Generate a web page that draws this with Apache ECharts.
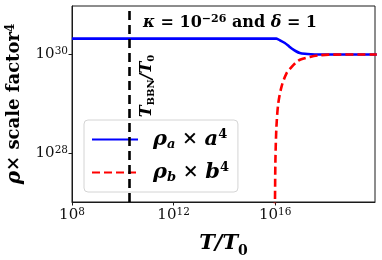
<!DOCTYPE html>
<html>
<head>
<meta charset="utf-8">
<script src="https://cdn.jsdelivr.net/npm/echarts@6/dist/echarts.min.js"></script>
<style>html,body{margin:0;padding:0;background:#fff}#c{width:382px;height:260px}</style>
</head>
<body>
<div id="c"></div>
<script>
// ---- data ----
var blueT   = [1e8, 1.12e16, 1.58e16, 2.4e16, 3.55e16, 4.47e16, 6.6e16, 9.3e16, 1.48e17, 2.5e17, 5e17, 1e20];
var blueRho = [2.09e30, 2.09e30, 1.91e30, 1.7e30, 1.45e30, 1.32e30, 1.16e30, 1.07e30, 1.03e30, 1.01e30, 1.0e30, 1.0e30];
var redT    = [9.55e15, 9.8e15, 1.02e16, 1.12e16, 1.32e16, 1.78e16, 2.82e16, 4.47e16, 7.1e16, 1e17, 2.34e17, 5e17, 1.26e18, 1e20];
var redRho  = [4e26, 1.05e27, 7.2e27, 3.5e28, 1.02e29, 2.24e29, 4.2e29, 5.6e29, 7.1e29, 7.9e29, 8.9e29, 9.55e29, 9.9e29, 1.0e30];
var bbnT = 1.78e10;
var xTicks = [1e8, 1e12, 1e16];
var yTicks = [1e28, 1e30];
var xMin = 1e8, xMax = 8.5e19, yMin = 1.05e27, yMax = 9.5e30;
var seriesNames = ['rho_a', 'rho_b'];

var SERIF = '"DejaVu Serif", "Liberation Serif", serif';
function pack(xs, ys) { return xs.map(function (x, i) { return [x, ys[i]]; }); }
function tickFmt(v) {
  var l = Math.log10(v), e = Math.round(l);
  if (Math.abs(l - e) > 1e-6) return '';
  return '{b|10}{s|' + e + '}';
}
var tickRich = {
  b: {fontFamily: SERIF, fontSize: 15, lineHeight: 17, color: '#111'},
  s: {fontFamily: SERIF, fontSize: 10.5, lineHeight: 11, verticalAlign: 'top', color: '#111'}
};

var chart = echarts.init(document.getElementById('c'), null, {renderer: 'canvas'});
chart.setOption({
  animation: false,
  grid: {left: 72, top: 6, right: 7, bottom: 58, show: true, borderColor: '#1a1a1a', borderWidth: 1,
         backgroundColor: 'transparent', containLabel: false, outerBoundsMode: 'none'},
  xAxis: {
    type: 'log', min: xMin, max: xMax, interval: 4,
    axisLine: {show: true, lineStyle: {color: '#1a1a1a', width: 1}},
    axisTick: {show: true, length: 3.5, inside: false, customValues: xTicks, lineStyle: {color: '#1a1a1a'}},
    splitLine: {show: false},
    axisLabel: {formatter: tickFmt, rich: tickRich, margin: 5, customValues: xTicks},
    name: '{i|T/T}{s|0}', nameLocation: 'middle', nameGap: 31,
    nameTextStyle: {rich: {
      i: {fontFamily: SERIF, fontSize: 21, fontWeight: 'bold', fontStyle: 'italic', color: '#000'},
      s: {fontFamily: SERIF, fontSize: 14, fontWeight: 'bold', color: '#000', verticalAlign: 'bottom', padding: [0, 0, -4, 0]}
    }}
  },
  yAxis: {
    type: 'log', min: yMin, max: yMax,
    axisLine: {show: true, lineStyle: {color: '#1a1a1a', width: 1}},
    axisTick: {show: true, length: 3.5, customValues: yTicks, lineStyle: {color: '#1a1a1a'}},
    splitLine: {show: false},
    axisLabel: {formatter: tickFmt, rich: tickRich, margin: 4, customValues: yTicks},
    name: '{i|ρ}{n|× scale factor}{s|4}', nameLocation: 'middle', nameGap: 43, nameRotate: 90,
    nameTextStyle: {rich: {
      i: {fontFamily: SERIF, fontSize: 20, fontWeight: 'bold', fontStyle: 'italic', color: '#000'},
      n: {fontFamily: SERIF, fontSize: 18, fontWeight: 'bold', color: '#000'},
      s: {fontFamily: SERIF, fontSize: 12, fontWeight: 'bold', color: '#000', verticalAlign: 'top'}
    }}
  },
  legend: {
    left: 84, top: 120, orient: 'vertical',
    data: seriesNames,
    itemWidth: 46, itemHeight: 14, itemGap: 10,
    padding: [8, 9, 8, 7],
    itemStyle: {opacity: 0},
    backgroundColor: 'rgba(255,255,255,0.8)', borderColor: '#d4d4d4', borderWidth: 1, borderRadius: 4,
    formatter: function (n) {
      return n === 'rho_a' ? '{p|}{i|ρ}{sub|a}{n| × }{i|a}{sup|4}' : '{p|}{i|ρ}{sub|b}{n| × }{i|b}{sup|4}';
    },
    textStyle: {rich: {
      p: {width: 10},
      i: {fontFamily: SERIF, fontSize: 21, fontWeight: 'bold', fontStyle: 'italic', color: '#000', lineHeight: 23},
      n: {fontFamily: SERIF, fontSize: 19, fontWeight: 'bold', color: '#000'},
      sub: {fontFamily: SERIF, fontSize: 13, fontWeight: 'bold', fontStyle: 'italic', color: '#000', verticalAlign: 'bottom', lineHeight: 13},
      sup: {fontFamily: SERIF, fontSize: 13, fontWeight: 'bold', color: '#000', verticalAlign: 'top', lineHeight: 13}
    }}
  },
  series: [
    {name: 'rho_a', type: 'line', data: pack(blueT, blueRho), symbol: 'none', smooth: 0.2, clip: true,
     lineStyle: {color: '#0000ff', width: 2.6}, itemStyle: {color: '#0000ff'}, z: 2,
     markLine: {silent: true, symbol: 'none', label: {show: false},
       lineStyle: {color: '#000', width: 2.6, type: [9, 5]},
       data: [{xAxis: bbnT}]}},
    {name: 'rho_b', type: 'line', data: pack(redT, redRho), symbol: 'none', smooth: 0.3, clip: true,
     lineStyle: {color: '#ff0000', width: 2.6, type: [8, 4]}, itemStyle: {color: '#ff0000'}, z: 3}
  ],
  graphic: [
    {type: 'text', x: 230, y: 23, z: 10, style: {
      text: '{i|κ}{n| = 10}{s|−26}{n| and }{i|δ}{n| = 1}',
      align: 'center', verticalAlign: 'middle',
      rich: {
        i: {fontFamily: SERIF, fontSize: 16, fontWeight: 'bold', fontStyle: 'italic', fill: '#000', lineHeight: 18},
        n: {fontFamily: SERIF, fontSize: 16, fontWeight: 'bold', fill: '#000', lineHeight: 18},
        s: {fontFamily: SERIF, fontSize: 11, fontWeight: 'bold', fill: '#000', verticalAlign: 'top', lineHeight: 11}
      }}},
    {type: 'text', x: 147, y: 86, rotation: Math.PI / 2, z: 10, style: {
      text: '{i|T}{s|BBN}{i|/T}{s|0}',
      align: 'center', verticalAlign: 'middle',
      rich: {
        i: {fontFamily: SERIF, fontSize: 16, fontWeight: 'bold', fontStyle: 'italic', fill: '#000', lineHeight: 18},
        s: {fontFamily: SERIF, fontSize: 10, fontWeight: 'bold', fill: '#000', verticalAlign: 'bottom', lineHeight: 10}
      }}}
  ]
});
</script>
</body>
</html>
